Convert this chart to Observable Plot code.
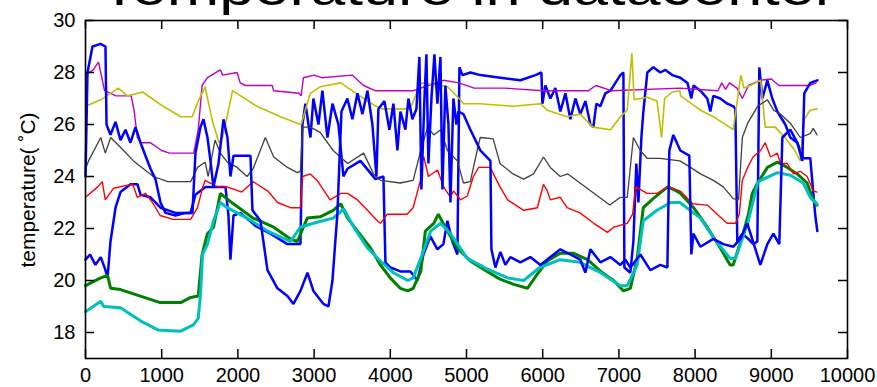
<!DOCTYPE html>
<html><head><meta charset="utf-8">
<script src="https://cdn.jsdelivr.net/npm/d3@7"></script>
<script src="https://cdn.jsdelivr.net/npm/@observablehq/plot@0.6"></script>
<style>
html,body{margin:0;padding:0;background:#fff;overflow:hidden}
#wrap{position:relative;width:877px;height:387px;overflow:hidden;background:#fff}
#chart{position:absolute;left:0;top:0}
#title{position:absolute;top:-37px;left:468px;font-family:Arial,"Liberation Sans",sans-serif;font-size:50px;line-height:50px;white-space:nowrap;color:#000;transform:translateX(-50%) scaleX(1.26);z-index:2}
#ylabel{position:absolute;left:28px;top:190px;font-family:Arial,"Liberation Sans",sans-serif;font-size:21px;white-space:nowrap;color:#000;transform:translate(-50%,-50%) rotate(-90deg);z-index:2}
</style></head>
<body><div id="wrap"><div id="chart"></div><div id="title"></div><div id="ylabel"></div></div>
<script>
const titleText = "Temperature in datacenter";
const yLabelText = "temperature( \u02DAC)";
const xTicks = [0,1000,2000,3000,4000,5000,6000,7000,8000,9000,10000];
const yTicks = [18,20,22,24,26,28,30];

// series (sample index, °C) in MATLAB colour order
const blue1 = [[0,20.8],[60,21.0],[130,20.6],[200,20.9],[262,20.4],[289,20.1],[328,21.5],[394,22.8],[459,23.4],[590,23.7],[682,23.7],[722,23.3],[853,23.2],[984,22.8],[1181,22.6],[1378,22.6],[1443,23.3],[1574,23.6],[1837,23.6],[1876,22.5],[1902,20.8],[1942,22.5],[2034,22.6],[2230,22.1],[2427,21.8],[2650,21.4],[2821,21.4],[2847,26.0],[2886,26.8],[2952,25.5],[2991,27.0],[3057,26.0],[3109,27.3],[3175,25.5],[3241,26.8],[3319,26.0],[3385,24.0],[3437,24.3],[3608,24.6],[3805,23.9],[3910,24.0],[3936,20.7],[4002,20.5],[4133,20.35],[4264,20.35],[4356,20.0],[4435,21.0],[4526,21.7],[4618,21.2],[4697,21.4],[4749,22.3],[4815,21.5],[4881,21.0],[4907,28.2],[4946,27.9],[5051,28.0],[5182,27.9],[5445,27.8],[5707,27.7],[5904,27.9],[5983,28.0],[5996,26.8],[6035,27.5],[6101,27.0],[6166,27.4],[6232,26.5],[6298,27.2],[6363,26.2],[6429,27.0],[6494,26.4],[6560,26.9],[6626,26.0],[6665,25.9],[6704,26.8],[6757,26.7],[6822,27.2],[6888,27.3],[6954,27.6],[7019,27.9],[7059,28.0],[7072,20.5],[7150,20.3],[7190,21.5],[7229,24.5],[7256,23.0],[7295,25.5],[7321,26.5],[7373,28.0],[7452,28.2],[7544,28.0],[7610,28.1],[7700,27.9],[7806,27.8],[7900,27.6],[7950,27.0],[7980,27.5],[8069,27.3],[8160,27.0],[8200,26.5],[8239,27.1],[8331,27.0],[8423,26.8],[8502,26.7],[8528,26.6],[8554,21.5],[8620,21.8],[8698,21.6],[8764,21.4],[8817,21.5],[8843,28.2],[8882,27.0],[8948,27.7],[9013,27.0],[9079,26.5],[9184,26.0],[9249,25.5],[9341,25.3],[9420,24.7],[9512,24.7],[9538,23.8],[9577,22.5],[9604,21.9]];
const green = [[0,19.8],[200,20.1],[290,20.2],[330,19.7],[460,19.65],[720,19.4],[980,19.15],[1250,19.15],[1380,19.35],[1480,19.4],[1530,21.0],[1600,21.8],[1680,22.05],[1770,23.35],[1940,22.95],[2200,22.4],[2470,22.05],[2690,21.6],[2780,21.5],[2910,22.4],[3080,22.45],[3250,22.7],[3350,22.95],[3440,22.4],[3570,21.9],[3740,21.25],[3870,20.6],[4000,20.1],[4130,19.7],[4230,19.6],[4300,19.7],[4400,20.35],[4460,21.9],[4570,22.2],[4630,22.55],[4750,21.9],[4880,21.25],[5050,20.75],[5270,20.35],[5440,20.05],[5620,19.85],[5800,19.7],[5930,20.25],[6060,20.75],[6230,21.05],[6400,21.05],[6590,20.8],[6760,20.35],[6930,20.0],[7060,19.6],[7150,19.7],[7240,20.85],[7320,22.8],[7450,23.15],[7640,23.6],[7720,23.5],[7810,23.35],[7980,22.8],[8160,22.05],[8330,21.25],[8460,20.6],[8500,20.6],[8630,21.8],[8700,22.55],[8750,23.35],[8820,23.75],[8950,24.35],[9080,24.55],[9210,24.35],[9340,24.1],[9470,23.75],[9550,23.1],[9600,22.9]];
const red = [[0,23.2],[160,23.6],[220,23.8],[260,23.1],[370,23.55],[520,23.65],[620,23.7],[680,23.2],[790,23.35],[890,22.95],[980,22.5],[1150,22.35],[1380,22.35],[1470,22.8],[1540,23.6],[1570,23.85],[1730,23.6],[1860,23.6],[2050,23.4],[2200,23.8],[2390,23.45],[2520,23.0],[2690,22.8],[2820,22.8],[2850,24.0],[2950,24.1],[3040,23.85],[3210,23.1],[3350,23.35],[3440,23.35],[3570,23.1],[3700,22.7],[3830,22.3],[3870,22.2],[3960,22.55],[4220,22.55],[4300,22.8],[4395,23.85],[4420,24.6],[4440,24.75],[4500,24.0],[4620,24.25],[4700,23.6],[4790,23.2],[4830,23.45],[4920,23.1],[5010,23.25],[5090,24.0],[5160,24.35],[5310,24.35],[5440,23.6],[5540,23.1],[5750,22.7],[5930,22.8],[6010,23.7],[6060,23.45],[6100,23.1],[6230,23.2],[6320,22.8],[6490,22.6],[6670,22.2],[6850,21.85],[6930,22.05],[7110,22.2],[7180,22.55],[7220,23.6],[7370,23.35],[7500,23.35],[7640,23.6],[7800,23.45],[7970,22.95],[8160,22.9],[8290,22.55],[8420,22.2],[8530,22.2],[8580,22.55],[8620,23.85],[8690,24.35],[8760,24.75],[8860,25.0],[8920,25.3],[8990,24.75],[9080,24.9],[9120,24.5],[9210,24.5],[9290,24.1],[9380,24.2],[9470,24.0],[9550,23.45],[9600,23.4]];
const cyan = [[0,18.8],[200,19.2],[240,19.0],[460,18.95],[720,18.45],[950,18.1],[1250,18.05],[1420,18.3],[1480,18.55],[1510,19.5],[1535,21.0],[1600,21.4],[1680,22.3],[1770,23.0],[1860,22.8],[2120,22.4],[2390,21.9],[2690,21.5],[2820,22.05],[2990,22.2],[3250,22.4],[3390,22.75],[3520,22.05],[3700,21.25],[3870,20.75],[4040,20.3],[4230,20.0],[4300,20.1],[4400,20.85],[4530,21.9],[4660,22.2],[4790,21.8],[5010,20.85],[5270,20.45],[5540,20.1],[5750,20.0],[5960,20.5],[6230,20.8],[6490,20.7],[6760,20.3],[7020,19.8],[7110,19.8],[7240,20.6],[7320,22.3],[7500,22.7],[7680,23.0],[7800,23.0],[8070,22.4],[8240,21.65],[8460,20.85],[8530,20.85],[8690,22.2],[8820,23.75],[8860,23.85],[9080,24.15],[9250,24.05],[9420,23.75],[9510,23.2],[9600,22.95]];
const magenta = [[0,27.9],[100,28.1],[170,28.4],[200,28.0],[250,27.3],[400,27.1],[600,27.1],[640,26.5],[680,25.5],[720,25.3],[850,25.3],[1000,25.0],[1100,24.9],[1420,24.9],[1480,25.8],[1530,27.5],[1600,27.8],[1770,28.1],[1800,27.9],[1990,28.0],[2030,27.6],[2100,27.5],[2450,27.5],[2470,27.3],[2800,27.2],[2830,27.1],[2860,27.8],[3000,27.9],[3100,27.8],[3500,27.9],[3650,27.5],[3800,27.3],[4300,27.3],[4500,27.5],[4700,27.7],[4900,27.6],[5100,27.4],[5500,27.4],[6000,27.3],[6600,27.3],[6700,27.5],[6900,27.3],[7800,27.4],[8300,27.3],[8350,27.6],[8400,27.35],[8450,27.6],[8550,27.4],[8620,27.0],[8700,27.5],[8850,27.7],[9000,27.75],[9100,27.5],[9300,27.5],[9500,27.5],[9590,27.6]];
const olive = [[0,26.7],[200,26.95],[430,27.4],[550,27.1],[750,27.25],[1020,26.7],[1250,26.3],[1400,26.3],[1480,26.9],[1570,27.45],[1660,26.2],[1750,25.3],[1800,25.5],[1930,27.3],[2250,26.7],[2560,26.3],[2780,26.05],[2830,26.0],[2880,26.5],[2950,27.2],[3080,27.45],[3350,27.6],[3550,27.2],[3780,26.75],[3900,26.6],[4260,26.6],[4400,27.6],[4750,27.45],[4920,26.95],[4960,26.8],[5180,26.8],[5610,26.7],[5970,26.8],[6060,26.55],[6320,26.3],[6490,26.4],[6660,25.9],[6890,25.8],[7020,26.3],[7110,26.55],[7170,28.75],[7200,26.95],[7370,27.05],[7500,26.9],[7560,25.5],[7600,27.0],[7700,27.25],[7800,27.3],[7810,27.1],[8070,26.55],[8240,26.3],[8500,25.8],[8600,27.9],[8640,27.4],[8690,27.45],[8860,27.7],[8920,25.9],[9050,25.9],[9180,25.5],[9310,25.0],[9380,24.6],[9430,26.2],[9510,26.55],[9600,26.6]];
const gray = [[0,24.3],[40,24.6],[200,25.5],[260,24.9],[330,25.5],[500,25.0],[630,24.6],[890,24.0],[1080,23.8],[1380,23.8],[1470,24.35],[1570,24.55],[1610,24.0],[1700,25.4],[1770,24.9],[1860,24.55],[1990,24.35],[2120,24.0],[2200,24.3],[2360,25.5],[2470,24.75],[2650,24.35],[2780,24.15],[2820,24.2],[2850,25.9],[2950,25.9],[3080,25.7],[3250,25.0],[3440,24.5],[3650,24.9],[3780,24.1],[3870,23.85],[4130,23.75],[4300,23.85],[4400,25.0],[4490,25.9],[4570,25.6],[4660,25.8],[4750,25.0],[4880,24.6],[4960,23.75],[5050,23.8],[5140,25.0],[5180,25.5],[5350,25.45],[5440,24.5],[5610,24.1],[5750,23.9],[5880,24.1],[6010,24.75],[6100,24.35],[6230,24.0],[6330,24.1],[6490,23.75],[6880,22.9],[7020,23.2],[7110,23.2],[7190,25.5],[7280,25.0],[7370,24.7],[7540,24.7],[7800,24.6],[7940,24.35],[8070,24.1],[8240,23.85],[8370,23.6],[8500,23.15],[8570,23.1],[8620,25.5],[8690,26.05],[8820,26.7],[8950,26.95],[9030,26.55],[9120,26.4],[9250,26.05],[9380,25.5],[9510,25.65],[9550,25.85],[9600,25.6]];
const blue2 = [[0,24.0],[26,28.0],[92,29.0],[197,29.1],[262,29.0],[276,26.0],[328,25.6],[394,26.1],[459,25.4],[525,25.8],[590,25.3],[656,25.9],[722,25.3],[787,24.8],[853,24.3],[918,23.9],[984,23.0],[1050,22.6],[1181,22.5],[1312,22.6],[1404,22.6],[1443,24.9],[1509,25.9],[1548,26.2],[1601,25.5],[1640,24.6],[1679,23.6],[1745,24.5],[1811,26.2],[1863,25.5],[1902,24.0],[1942,24.8],[1994,24.8],[2165,24.8],[2191,22.7],[2296,22.3],[2388,20.4],[2519,19.7],[2650,19.4],[2729,19.1],[2821,19.6],[2913,20.3],[2991,19.6],[3123,19.1],[3188,19.0],[3241,20.0],[3306,22.6],[3359,26.5],[3437,27.0],[3503,26.2],[3569,27.2],[3634,26.4],[3700,27.3],[3765,26.0],[3818,24.0],[3844,26.6],[3923,26.9],[3988,25.8],[4041,26.8],[4093,25.0],[4133,26.5],[4198,25.8],[4238,27.0],[4290,26.2],[4343,26.6],[4382,28.6],[4408,23.5],[4448,27.0],[4474,28.7],[4500,24.5],[4540,27.0],[4579,28.7],[4618,26.8],[4658,28.6],[4684,23.5],[4723,27.5],[4763,26.0],[4789,23.0],[4828,27.0],[4868,26.0],[4894,26.5],[4959,26.4],[5051,25.8],[5117,25.4],[5182,25.0],[5248,24.8],[5314,24.6],[5327,21.2],[5379,20.5],[5445,21.1],[5510,20.6],[5576,20.9],[5707,20.7],[5838,20.9],[5970,20.6],[6101,20.9],[6232,21.2],[6363,21.0],[6494,20.8],[6560,20.3],[6626,21.2],[6757,20.7],[6888,20.9],[7019,20.6],[7085,20.8],[7150,20.5],[7282,21.0],[7413,20.4],[7544,20.6],[7636,20.5],[7662,25.0],[7714,25.6],[7806,25.0],[7924,24.8],[7951,21.0],[7977,21.8],[8069,21.3],[8239,21.6],[8370,21.4],[8502,21.3],[8594,21.6],[8685,22.2],[8856,20.6],[8948,21.4],[9027,21.8],[9105,21.4],[9145,25.5],[9249,25.8],[9341,25.3],[9407,24.6],[9433,27.2],[9512,27.6],[9604,27.7]];

const series = [blue1, green, red, cyan, magenta, olive, gray, blue2];
const seriesColors = ["#0000ff","#008000","#ff0000","#00bfbf","#bf00bf","#bfbf00","#404040","#0000ff"];
const seriesWidths = [2.5,3,1.4,3,1.4,1.6,1.3,2.5];

const W = 877, H = 387, mL = 85, mR = 30, mT = 20, mB = 29;
const tickLen = 9;
const plotW = W - mL - mR, plotH = H - mT - mB;

const lineMarks = series.map((s, i) => Plot.line(s, {x: d => d[0], y: d => d[1], stroke: seriesColors[i], strokeWidth: seriesWidths[i], strokeLinejoin: "miter"}));

const chart = Plot.plot({
  width: W, height: H,
  marginLeft: mL, marginRight: mR, marginTop: mT, marginBottom: mB,
  x: {domain: [0, 10000]},
  y: {domain: [17, 30]},
  style: {fontFamily: "Arial,'Liberation Sans',sans-serif", fontSize: "20px", color: "#000", background: "transparent"},
  marks: [
    ...lineMarks,
    Plot.ruleX(xTicks, {x: d => d, insetTop: plotH - tickLen, stroke: "#000", strokeWidth: 1.5}),
    Plot.ruleX(xTicks, {x: d => d, insetBottom: plotH - tickLen, stroke: "#000", strokeWidth: 1.5}),
    Plot.ruleY(yTicks, {y: d => d, insetRight: plotW - tickLen, stroke: "#000", strokeWidth: 1.5}),
    Plot.ruleY(yTicks, {y: d => d, insetLeft: plotW - tickLen, stroke: "#000", strokeWidth: 1.5}),
    Plot.frame({stroke: "#000", strokeWidth: 1.6}),
    Plot.axisX(xTicks, {tickSize: 0, tickPadding: 9, tickFormat: d => String(d), label: null}),
    Plot.axisY(yTicks, {tickSize: 0, tickPadding: 10, tickFormat: d => String(d), label: null})
  ]
});
document.getElementById("chart").appendChild(chart);
document.getElementById("title").textContent = titleText;
document.getElementById("ylabel").textContent = yLabelText;
</script>
</body></html>
